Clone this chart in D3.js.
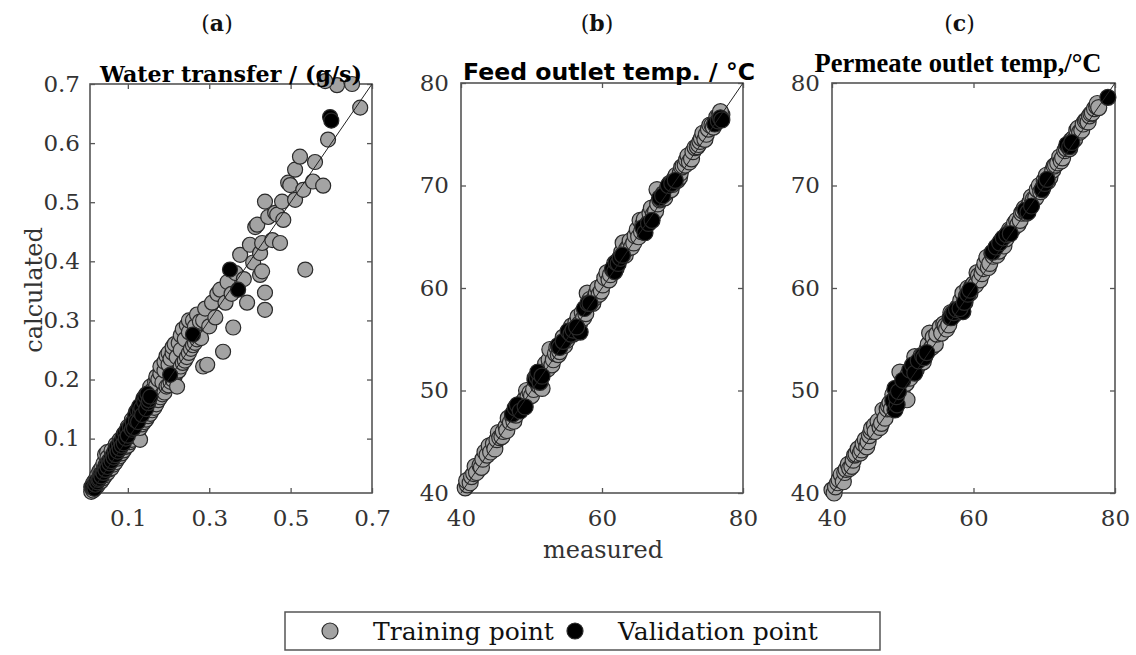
<!DOCTYPE html>
<html><head><meta charset="utf-8">
<script src="https://cdn.jsdelivr.net/npm/d3@7"></script>
<style>body{margin:0;background:#fff}svg{display:block}</style>
</head><body><svg id="c" width="1136" height="655"></svg>
<script>
// ---------- data ----------
const panelLetters = ["a", "b", "c"];
const panelTitles = ["Water transfer / (g/s)", "Feed outlet temp. / °C", "Permeate outlet temp,/°C"];
const xTickValues = [[0.1, 0.3, 0.5, 0.7], [40, 60, 80], [40, 60, 80]];
const yTickValues = [[0.1, 0.2, 0.3, 0.4, 0.5, 0.6, 0.7], [40, 50, 60, 70, 80], [40, 50, 60, 70, 80]];
const xDomains = [[0.007, 0.7], [40, 80], [40, 80]];
const yDomains = [[0.008, 0.7], [40, 80], [40, 80]];
const legendLabels = ["Training point", "Validation point"];

// [measured, calculated]
const waterTrain = [
[0.010,0.010],[0.010,0.018],[0.015,0.012],[0.015,0.025],[0.020,0.016],[0.020,0.030],[0.020,0.022],[0.025,0.020],[0.025,0.038],
[0.030,0.025],[0.030,0.034],[0.030,0.045],[0.035,0.028],[0.035,0.050],[0.040,0.033],[0.040,0.045],[0.040,0.058],[0.044,0.073],
[0.045,0.038],[0.045,0.055],[0.049,0.077],[0.050,0.042],[0.050,0.062],[0.050,0.068],[0.055,0.048],[0.055,0.058],[0.060,0.050],
[0.060,0.070],[0.060,0.080],[0.065,0.056],[0.065,0.066],[0.070,0.060],[0.070,0.078],[0.070,0.090],[0.075,0.066],[0.075,0.085],
[0.080,0.070],[0.080,0.082],[0.080,0.098],[0.085,0.075],[0.085,0.092],[0.090,0.080],[0.090,0.095],[0.090,0.108],[0.095,0.086],
[0.095,0.102],[0.100,0.088],[0.100,0.108],[0.100,0.120],[0.105,0.094],[0.105,0.115],[0.110,0.098],[0.110,0.120],[0.110,0.132],
[0.115,0.104],[0.115,0.125],[0.120,0.108],[0.120,0.130],[0.120,0.145],[0.125,0.112],[0.125,0.138],[0.130,0.098],[0.130,0.118],
[0.130,0.150],[0.135,0.124],[0.135,0.145],[0.135,0.160],[0.140,0.128],[0.140,0.152],[0.145,0.132],[0.145,0.160],[0.145,0.175],
[0.150,0.138],[0.150,0.168],[0.155,0.142],[0.155,0.175],[0.155,0.188],[0.160,0.148],[0.160,0.182],[0.167,0.196],[0.165,0.152],
[0.165,0.175],[0.170,0.158],[0.170,0.190],[0.170,0.205],[0.175,0.165],[0.175,0.200],[0.180,0.170],[0.180,0.210],[0.180,0.222],
[0.185,0.175],[0.185,0.195],[0.190,0.178],[0.190,0.215],[0.190,0.230],[0.195,0.188],[0.195,0.240],[0.200,0.190],[0.200,0.225],
[0.200,0.245],[0.205,0.196],[0.205,0.235],[0.210,0.200],[0.210,0.245],[0.210,0.255],[0.215,0.205],[0.215,0.260],[0.220,0.212],
[0.220,0.238],[0.221,0.188],[0.225,0.215],[0.225,0.262],[0.230,0.222],[0.230,0.250],[0.230,0.275],[0.235,0.228],[0.235,0.285],
[0.240,0.232],[0.240,0.268],[0.245,0.238],[0.245,0.292],[0.250,0.245],[0.250,0.280],[0.250,0.300],[0.255,0.252],[0.260,0.258],
[0.260,0.300],[0.265,0.262],[0.265,0.290],[0.270,0.268],[0.270,0.310],[0.277,0.298],[0.285,0.222],[0.295,0.225],[0.280,0.270],
[0.285,0.300],[0.290,0.320],[0.300,0.290],[0.307,0.330],[0.315,0.305],[0.320,0.345],[0.327,0.352],[0.334,0.247],[0.340,0.330],
[0.345,0.365],[0.359,0.288],[0.355,0.345],[0.365,0.380],[0.376,0.411],[0.393,0.330],[0.385,0.370],[0.400,0.428],[0.408,0.398],
[0.413,0.458],[0.418,0.462],[0.425,0.377],[0.425,0.414],[0.430,0.431],[0.430,0.383],[0.437,0.347],[0.437,0.318],[0.437,0.501],
[0.445,0.475],[0.455,0.436],[0.462,0.482],[0.467,0.479],[0.474,0.431],[0.479,0.501],[0.482,0.470],[0.494,0.533],[0.499,0.529],
[0.511,0.555],[0.511,0.504],[0.523,0.577],[0.531,0.521],[0.536,0.386],[0.555,0.535],[0.560,0.568],[0.580,0.528],[0.592,0.606],
[0.614,0.698],[0.651,0.700],[0.585,0.705],[0.671,0.660]
];
const waterValid = [
[0.012,0.018],[0.015,0.016],[0.018,0.015],[0.020,0.022],[0.022,0.028],[0.025,0.026],[0.028,0.030],[0.030,0.032],[0.033,0.040],
[0.035,0.036],[0.038,0.044],[0.040,0.042],[0.043,0.050],[0.045,0.047],[0.048,0.056],[0.050,0.052],[0.053,0.062],[0.055,0.058],
[0.058,0.066],[0.060,0.062],[0.063,0.073],[0.065,0.068],[0.068,0.080],[0.070,0.072],[0.072,0.086],[0.075,0.078],[0.078,0.090],
[0.080,0.083],[0.083,0.096],[0.085,0.088],[0.088,0.104],[0.090,0.092],[0.093,0.110],[0.095,0.100],[0.098,0.115],[0.100,0.105],
[0.105,0.120],[0.110,0.115],[0.112,0.128],[0.115,0.118],[0.118,0.140],[0.120,0.130],[0.123,0.148],[0.125,0.128],[0.128,0.155],
[0.130,0.145],[0.133,0.152],[0.135,0.140],[0.138,0.168],[0.140,0.162],[0.143,0.172],[0.145,0.150],[0.148,0.176],[0.150,0.160],
[0.152,0.165],[0.155,0.171],[0.204,0.208],[0.260,0.276],[0.351,0.386],[0.371,0.352],[0.597,0.644],[0.600,0.638]
];
const feedTrain = [
[40.6,40.5],[40.9,40.8],[40.8,41.2],[41.3,41.0],[41.5,41.6],[41.8,41.9],[42.0,42.6],[42.2,42.0],[42.7,42.7],[42.9,42.5],
[43.1,43.3],[43.4,44.0],[43.7,43.7],[44.0,44.6],[44.2,44.0],[44.6,44.8],[44.8,44.3],[45.1,45.2],[45.3,45.9],[45.5,45.4],
[45.8,45.5],[46.0,46.0],[46.4,46.5],[46.5,46.1],[46.7,47.3],[47.0,46.9],[47.3,47.5],[47.5,47.0],[47.8,47.6],[48.0,48.1],
[48.2,48.5],[48.6,48.4],[48.8,48.9],[49.1,49.2],[49.3,50.0],[49.5,49.4],[49.8,49.8],[50.0,49.5],[50.3,50.1],[50.5,51.2],
[50.7,50.9],[51.0,50.5],[51.3,51.5],[51.5,50.2],[51.8,51.9],[52.0,52.6],[52.3,52.1],[52.5,53.0],[52.6,54.0],[52.9,52.5],
[53.1,53.0],[53.4,53.6],[53.6,54.2],[53.8,53.5],[54.0,53.8],[54.3,54.6],[54.5,55.2],[54.7,54.4],[55.0,54.9],[55.2,55.3],
[55.4,55.8],[55.7,56.3],[55.9,55.5],[56.1,56.0],[56.3,56.6],[56.6,57.2],[56.8,56.5],[57.2,57.6],[57.4,57.1],[57.9,59.5],
[57.7,57.5],[58.1,58.4],[58.3,58.9],[58.7,58.5],[58.9,59.0],[59.2,59.5],[59.4,60.0],[59.6,59.4],[59.9,59.7],[60.1,60.3],
[60.4,61.0],[60.7,61.5],[61.0,60.8],[61.2,61.3],[61.5,61.8],[61.8,62.4],[62.0,61.9],[62.2,62.3],[62.5,62.9],[62.8,63.5],
[63.0,64.4],[63.3,63.2],[63.5,63.8],[63.8,64.1],[64.0,64.6],[64.2,64.0],[64.5,64.4],[64.7,65.1],[65.0,65.7],[65.4,66.6],
[65.2,65.0],[65.6,65.5],[65.8,66.2],[66.0,66.7],[66.3,66.1],[66.6,66.4],[66.8,67.3],[67.0,67.8],[67.3,67.2],[67.6,67.5],
[67.8,69.6],[67.9,68.2],[68.2,68.6],[68.4,68.7],[68.7,69.2],[68.9,68.8],[69.1,69.3],[69.3,69.8],[69.6,70.2],[69.8,69.6],
[70.0,70.1],[70.3,70.7],[70.5,71.0],[70.7,70.5],[71.0,70.8],[71.1,71.2],[71.3,71.8],[71.5,71.9],[71.8,72.0],[72.0,72.5],
[72.2,72.9],[72.4,72.3],[72.7,72.6],[72.9,73.3],[73.2,73.7],[73.5,73.8],[73.7,74.0],[73.9,74.3],[74.1,74.6],[74.3,75.1],
[74.6,74.5],[74.8,75.0],[75.1,75.5],[75.3,75.9],[75.6,75.9],[75.8,75.7],[76.1,76.2],[76.3,76.7],[76.6,76.8],[76.9,77.0],
[77.0,76.9],[76.8,77.2]
];
const feedValid = [
[47.3,47.7],[47.7,48.3],[48.0,48.6],[48.4,48.0],[49.1,48.4],[50.5,51.0],[50.8,51.3],[51.2,50.8],[50.9,51.8],[51.5,51.4],
[53.8,54.4],[54.0,54.2],[54.5,54.8],[55.2,55.8],[55.6,55.5],[55.9,55.9],[56.9,55.7],[56.4,56.2],[57.5,58.0],[58.0,58.5],
[58.3,58.5],[61.5,61.9],[61.8,61.6],[62.0,62.5],[62.3,62.4],[62.6,62.9],[62.9,63.2],[65.8,65.9],[66.1,65.4],[66.6,66.3],
[67.1,66.6],[68.2,68.8],[68.6,69.0],[69.4,70.0],[69.9,70.2],[70.4,70.5],[76.0,76.0],[76.5,76.3],[76.8,76.6],[77.0,76.4]
];
const permTrain = [
[40.0,40.3],[40.3,40.0],[40.5,40.6],[40.8,41.0],[41.0,41.3],[41.3,41.8],[41.6,41.1],[41.8,42.0],[42.0,42.3],[42.3,42.8],
[42.5,42.4],[42.8,42.6],[43.0,43.2],[43.2,43.7],[43.4,43.8],[43.7,44.3],[44.0,43.9],[44.2,44.2],[44.4,44.8],[44.7,45.2],
[44.9,44.5],[45.1,45.0],[45.3,45.6],[45.5,46.0],[45.6,46.3],[46.0,46.6],[46.1,46.0],[46.5,47.0],[46.8,46.4],[47.0,46.8],
[47.2,48.1],[47.5,47.3],[47.8,48.2],[48.0,48.5],[48.2,48.8],[48.4,48.2],[48.6,49.6],[49.0,49.3],[49.3,50.0],[49.6,51.8],
[49.9,49.8],[50.2,50.6],[50.6,49.1],[50.5,50.7],[50.8,51.6],[51.0,51.2],[51.3,52.2],[51.7,53.3],[51.9,52.0],[52.1,52.5],
[52.4,52.6],[52.6,53.4],[52.9,52.8],[53.1,53.3],[53.4,54.0],[53.6,54.5],[53.8,55.6],[54.1,54.2],[54.3,55.2],[54.6,54.5],
[54.8,55.5],[55.3,56.2],[55.5,55.6],[55.8,56.5],[56.0,56.3],[56.2,56.0],[56.5,56.4],[56.8,57.6],[57.0,57.5],[57.3,57.4],
[57.7,58.1],[58.0,57.8],[58.2,58.8],[58.5,59.5],[58.8,58.6],[59.0,59.2],[59.2,60.0],[59.5,59.5],[59.8,60.2],[60.0,60.4],
[60.3,60.3],[60.5,61.5],[60.7,61.2],[60.9,60.8],[61.2,61.4],[61.4,61.9],[61.6,62.4],[61.9,63.0],[62.1,62.0],[62.3,62.4],
[62.6,63.4],[62.8,63.1],[63.1,63.6],[63.3,63.2],[63.6,63.6],[63.8,64.3],[64.0,64.7],[64.3,64.1],[64.6,64.8],[64.8,65.3],
[65.1,65.7],[65.3,65.6],[65.6,65.8],[65.8,66.3],[66.1,66.6],[66.3,66.2],[66.6,66.6],[66.8,67.3],[67.0,67.5],[67.2,67.8],
[67.5,67.3],[67.8,68.0],[68.0,68.4],[68.2,68.9],[68.5,68.7],[68.8,68.8],[69.0,69.6],[69.3,70.0],[69.5,69.4],[69.8,69.8],
[70.0,70.5],[70.3,71.0],[70.5,70.4],[70.8,70.8],[71.2,71.5],[71.4,71.9],[71.6,72.0],[71.9,72.2],[72.2,72.8],[72.4,72.4],
[72.6,72.7],[72.9,73.4],[73.1,73.6],[73.3,73.9],[73.6,73.6],[73.8,74.4],[74.1,74.6],[74.3,74.5],[74.6,75.4],[74.8,75.6],
[75.0,75.2],[75.3,75.4],[75.5,76.0],[75.8,76.3],[76.0,76.4],[76.2,76.2],[76.4,76.8],[76.6,77.0],[76.8,77.1],[77.1,77.5],
[77.4,77.7],[77.5,78.0],[77.7,77.6]
];
const permValid = [
[48.6,49.0],[48.9,48.1],[49.2,48.6],[48.9,50.2],[49.1,49.4],[49.4,49.9],[50.0,51.0],[51.0,52.0],[51.4,52.5],[51.7,51.7],
[52.2,52.9],[52.8,53.4],[53.0,53.2],[53.4,53.7],[56.7,57.1],[56.9,57.1],[57.2,57.6],[57.6,57.9],[58.5,57.7],[58.1,58.0],
[58.7,58.6],[59.2,59.4],[59.5,59.8],[62.7,63.5],[63.2,64.0],[63.7,64.4],[64.2,64.9],[64.7,65.2],[65.2,65.3],[67.3,67.6],
[67.7,67.4],[68.2,68.0],[69.7,69.6],[70.1,70.2],[70.4,70.6],[73.2,74.0],[73.6,73.8],[73.9,74.2],[79.0,78.6]
];
const trainSets = [waterTrain, feedTrain, permTrain];
const validSets = [waterValid, feedValid, permValid];

// ---------- layout ----------
const boxes = [
  {l: 90, r: 372, t: 84, b: 493, rad: 7.5},
  {l: 461, r: 743, t: 83, b: 493, rad: 8},
  {l: 832, r: 1115, t: 83, b: 493, rad: 8}
];
const SERIF = "'DejaVu Serif', serif";
const GRAY = "#a3a3a3", EDGE = "#2a2a2a", AXIS = "#555";
const svg = d3.select("#c");

boxes.forEach((bx, i) => {
  const x = d3.scaleLinear().domain(xDomains[i]).range([bx.l, bx.r]);
  const y = d3.scaleLinear().domain(yDomains[i]).range([bx.b, bx.t]);
  const g = svg.append("g");
  const fmt = i === 0 ? d3.format(".1f") : d3.format("d");

  const axL = g.append("g").attr("transform", `translate(${bx.l},0)`)
    .call(d3.axisLeft(y).tickValues(yTickValues[i]).tickSize(-5).tickSizeOuter(0).tickPadding(i === 0 ? 10 : 12).tickFormat(fmt));
  const axB = g.append("g").attr("transform", `translate(0,${bx.b})`)
    .call(d3.axisBottom(x).tickValues(xTickValues[i]).tickSize(-5).tickSizeOuter(0).tickPadding(17).tickFormat(fmt));
  const axR = g.append("g").attr("transform", `translate(${bx.r},0)`)
    .call(d3.axisRight(y).tickValues(yTickValues[i]).tickSize(-5).tickSizeOuter(0).tickFormat(""));
  const axT = g.append("g").attr("transform", `translate(0,${bx.t})`)
    .call(d3.axisTop(x).tickValues(xTickValues[i]).tickSize(-5).tickSizeOuter(0).tickFormat(""));
  [axL, axB, axR, axT].forEach(a => {
    a.select(".domain").remove();
    a.selectAll(".tick line").attr("stroke", AXIS).attr("stroke-width", 1.3);
    a.selectAll(".tick text").attr("font-family", SERIF).attr("font-size", 23).attr("fill", "#333");
  });
  g.append("rect").attr("x", bx.l).attr("y", bx.t).attr("width", bx.r - bx.l).attr("height", bx.b - bx.t)
    .attr("fill", "none").attr("stroke", AXIS).attr("stroke-width", 1.6);

  g.append("g").selectAll("circle").data(trainSets[i]).join("circle")
    .attr("cx", d => x(d[0])).attr("cy", d => y(d[1])).attr("r", bx.rad)
    .attr("fill", GRAY).attr("stroke", EDGE).attr("stroke-width", 1.2);
  g.append("g").selectAll("circle").data(validSets[i]).join("circle")
    .attr("cx", d => x(d[0])).attr("cy", d => y(d[1])).attr("r", bx.rad)
    .attr("fill", "#000").attr("stroke", EDGE).attr("stroke-width", 1.2);

  const lo = Math.max(xDomains[i][0], yDomains[i][0]), hi = Math.min(xDomains[i][1], yDomains[i][1]);
  g.append("line").attr("x1", x(lo)).attr("y1", y(lo)).attr("x2", x(hi)).attr("y2", y(hi))
    .attr("stroke", "#222").attr("stroke-width", 1);

  const pt = svg.append("text").attr("x", (bx.l + bx.r) / 2 - (i === 0 ? 14 : i === 1 ? 5 : 14)).attr("y", 31)
    .attr("text-anchor", "middle").attr("font-family", SERIF).attr("font-size", 22).attr("fill", "#111");
  pt.append("tspan").text("(");
  pt.append("tspan").attr("font-weight", "bold").text(panelLetters[i]);
  pt.append("tspan").text(")");
});

const titleSpecs = [
  {x: 231, y: 82, fam: "'DejaVu Serif', serif", size: 22, len: 262},
  {x: 609, y: 80, fam: "'DejaVu Sans', sans-serif", size: 23, len: 292},
  {x: 958, y: 72, fam: "'Liberation Serif', 'Times New Roman', serif", size: 27, len: 287}
];
titleSpecs.forEach((s, i) => {
  svg.append("text").attr("x", s.x).attr("y", s.y).attr("text-anchor", "middle")
    .attr("font-family", s.fam).attr("font-size", s.size).attr("font-weight", "bold").attr("fill", "#000")
    .attr("textLength", s.len).attr("lengthAdjust", "spacingAndGlyphs").text(panelTitles[i]);
});

svg.append("text").attr("x", 603).attr("y", 558).attr("text-anchor", "middle")
  .attr("font-family", SERIF).attr("font-size", 24).attr("fill", "#333").text("measured");
svg.append("text").attr("transform", "translate(42,290) rotate(-90)").attr("text-anchor", "middle")
  .attr("font-family", SERIF).attr("font-size", 24).attr("fill", "#333").text("calculated");

const lg = svg.append("g");
lg.append("rect").attr("x", 285).attr("y", 612).attr("width", 595).attr("height", 38)
  .attr("fill", "#fff").attr("stroke", AXIS).attr("stroke-width", 1.5);
const legendItems = [{cx: 330, tx: 373, fill: GRAY}, {cx: 575, tx: 618, fill: "#000"}];
legendItems.forEach((it, k) => {
  lg.append("circle").attr("cx", it.cx).attr("cy", 631).attr("r", 8)
    .attr("fill", it.fill).attr("stroke", EDGE).attr("stroke-width", 1.2);
  lg.append("text").attr("x", it.tx).attr("y", 640).attr("font-family", SERIF).attr("font-size", 25)
    .attr("fill", "#111").text(legendLabels[k]);
});
</script></body></html>
